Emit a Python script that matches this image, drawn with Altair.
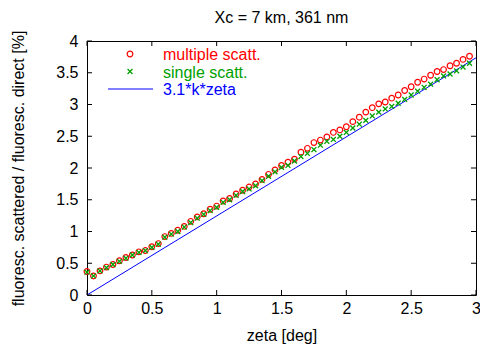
import altair as alt
import pandas as pd

# ---------------- data ----------------
zeta = [0.00, 0.05, 0.10, 0.15, 0.20, 0.25, 0.30, 0.35, 0.40, 0.45,
        0.50, 0.55, 0.60, 0.65, 0.70, 0.75, 0.80, 0.85, 0.90, 0.95,
        1.00, 1.05, 1.10, 1.15, 1.20, 1.25, 1.30, 1.35, 1.40, 1.45,
        1.50, 1.55, 1.60, 1.65, 1.70, 1.75, 1.80, 1.85, 1.90, 1.95,
        2.00, 2.05, 2.10, 2.15, 2.20, 2.25, 2.30, 2.35, 2.40, 2.45,
        2.50, 2.55, 2.60, 2.65, 2.70, 2.75, 2.80, 2.85, 2.90, 2.95]

multiple_scatt = [0.37, 0.30, 0.38, 0.44, 0.48, 0.54, 0.59, 0.63, 0.68, 0.70,
                  0.76, 0.81, 0.92, 0.97, 1.02, 1.08, 1.16, 1.23, 1.28, 1.35,
                  1.40, 1.48, 1.52, 1.59, 1.65, 1.70, 1.75, 1.82, 1.90, 1.97,
                  2.04, 2.09, 2.14, 2.25, 2.31, 2.40, 2.44, 2.49, 2.56, 2.60,
                  2.65, 2.73, 2.80, 2.88, 2.95, 3.01, 3.04, 3.10, 3.15, 3.22,
                  3.28, 3.35, 3.40, 3.46, 3.52, 3.55, 3.61, 3.65, 3.71, 3.76]

single_scatt = [0.36, 0.30, 0.38, 0.43, 0.48, 0.53, 0.58, 0.63, 0.67, 0.70,
                0.75, 0.80, 0.91, 0.96, 1.00, 1.07, 1.14, 1.21, 1.27, 1.33,
                1.38, 1.46, 1.50, 1.57, 1.63, 1.67, 1.72, 1.80, 1.87, 1.94,
                2.01, 2.04, 2.11, 2.18, 2.23, 2.29, 2.36, 2.42, 2.45, 2.50,
                2.56, 2.63, 2.69, 2.75, 2.82, 2.88, 2.93, 2.97, 3.02, 3.08,
                3.15, 3.21, 3.27, 3.32, 3.39, 3.45, 3.48, 3.53, 3.59, 3.65]

line_zeta = [0.0, 3.0]
line_val = [0.0, 3.735]

x_ticks = [0, 0.5, 1, 1.5, 2, 2.5, 3]
y_ticks = [0, 0.5, 1, 1.5, 2, 2.5, 3, 3.5, 4]

legend_labels = ["multiple scatt.", "single scatt.", "3.1*k*zeta"]

title_text = "Xc = 7 km, 361 nm"
x_title = "zeta [deg]"
y_title = "fluoresc. scattered / fluoresc. direct [%]"

RED = "#ff0000"
GREEN = "#00a000"
BLUE = "#0000ff"
FONT = "Liberation Sans"
FS = 16
W, H = 389, 254
TICK = 5
X_SHAPE = "M-1,-1L1,1M-1,1L1,-1"

# ---------------- encodings ----------------
X = alt.X("zeta:Q",
          scale=alt.Scale(domain=[0, 3], nice=False, zero=False),
          axis=alt.Axis(values=x_ticks, format="~g", title=x_title, grid=False,
                        ticks=False, tickSize=0, domain=False, labelPadding=5,
                        titlePadding=11, labelFlush=False, labelOverlap=False,
                        labelFont=FONT, labelFontSize=FS, labelColor="black",
                        titleFont=FONT, titleFontSize=FS, titleColor="black",
                        titleFontWeight="normal"))
Y = alt.Y("val:Q",
          scale=alt.Scale(domain=[0, 4], nice=False, zero=False),
          axis=alt.Axis(values=y_ticks, format="~g", title=y_title, grid=False,
                        ticks=False, tickSize=0, domain=False, labelPadding=9,
                        titlePadding=29, labelFlush=False, labelOverlap=False,
                        labelFont=FONT, labelFontSize=FS, labelColor="black",
                        titleFont=FONT, titleFontSize=FS, titleColor="black",
                        titleFontWeight="normal"))

df_m = pd.DataFrame({"zeta": zeta, "val": multiple_scatt})
df_s = pd.DataFrame({"zeta": zeta, "val": single_scatt})
df_l = pd.DataFrame({"zeta": line_zeta, "val": line_val})
df_xt = pd.DataFrame({"zeta": x_ticks})
df_yt = pd.DataFrame({"val": y_ticks})

line = alt.Chart(df_l).mark_line(color=BLUE, strokeWidth=1, clip=True).encode(x=X, y=Y)
circles = alt.Chart(df_m).mark_point(shape="circle", filled=False, color=RED,
                                     size=32, strokeWidth=1.2, opacity=1).encode(x=X, y=Y)
crosses = alt.Chart(df_s).mark_point(shape=X_SHAPE, filled=False, color=GREEN,
                                     size=24, strokeWidth=1.3, opacity=1).encode(x=X, y=Y)

xt_bottom = alt.Chart(df_xt).mark_rule(color="black", strokeWidth=1).encode(
    x=X, y=alt.value(H), y2=alt.value(H - TICK))
xt_top = alt.Chart(df_xt).mark_rule(color="black", strokeWidth=1).encode(
    x=X, y=alt.value(0), y2=alt.value(TICK))
yt_left = alt.Chart(df_yt).mark_rule(color="black", strokeWidth=1).encode(
    y=Y, x=alt.value(0), x2=alt.value(TICK))
yt_right = alt.Chart(df_yt).mark_rule(color="black", strokeWidth=1).encode(
    y=Y, x=alt.value(W), x2=alt.value(W - TICK))

# ---------------- legend (inside, top-left) ----------------
leg_colors = [RED, GREEN, BLUE]
leg_layers = []
for i, (lab, col) in enumerate(zip(legend_labels, leg_colors)):
    ly = 13 + 17.5 * i
    d = pd.DataFrame({"label": [lab]})
    leg_layers.append(
        alt.Chart(d).mark_text(align="left", baseline="middle", font=FONT,
                               fontSize=FS, color=col).encode(
            text="label:N", x=alt.value(76), y=alt.value(ly + 1)))
    if i == 0:
        leg_layers.append(alt.Chart(d).mark_point(shape="circle", filled=False, color=RED,
                                                  size=32, strokeWidth=1.2, opacity=1).encode(
            x=alt.value(43), y=alt.value(ly)))
    elif i == 1:
        leg_layers.append(alt.Chart(d).mark_point(shape=X_SHAPE, filled=False, color=GREEN,
                                                  size=24, strokeWidth=1.3, opacity=1).encode(
            x=alt.value(43), y=alt.value(ly)))
    else:
        leg_layers.append(alt.Chart(d).mark_rule(color=BLUE, strokeWidth=1).encode(
            x=alt.value(21), x2=alt.value(66), y=alt.value(ly)))

chart = alt.layer(line, circles, crosses, xt_bottom, xt_top, yt_left, yt_right,
                  *leg_layers).properties(
    width=W, height=H,
    title=alt.Title(title_text, font=FONT, fontSize=FS, fontWeight="normal",
                    color="black", anchor="middle", offset=4, frame="group"),
    padding={"left": 79, "top": 33, "right": 4, "bottom": 50},
    autosize=alt.AutoSizeParams(type="none"),
    background="white",
).configure_view(
    stroke="black", strokeWidth=1
)

chart.save("out.html", embed_options={"renderer": "svg", "actions": False})
